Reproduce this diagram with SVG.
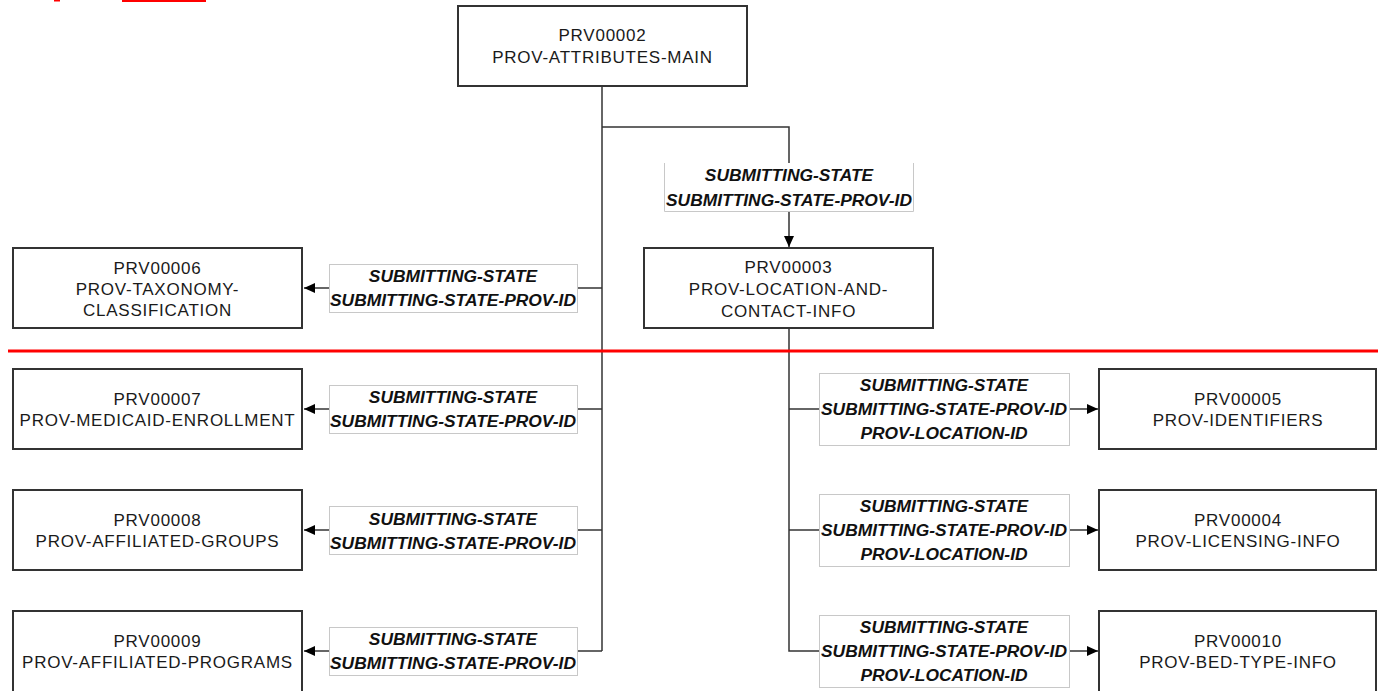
<svg xmlns="http://www.w3.org/2000/svg" width="1378" height="691" viewBox="0 0 1378 691">
<defs>
<style>
.box{fill:#fff;stroke:#333;stroke-width:2}
.bt{font-family:"Liberation Sans",Arial,sans-serif;font-size:17px;letter-spacing:0.75px;fill:#1a1a1a;text-anchor:middle}
.lb{fill:#fff;stroke:#c8c8c8;stroke-width:1}
.lt{font-family:"Liberation Sans",Arial,sans-serif;font-size:17.4px;font-weight:bold;font-style:italic;fill:#111;text-anchor:middle}
.con{fill:none;stroke:#333;stroke-width:1.5}
</style>
<marker id="ah" markerUnits="userSpaceOnUse" markerWidth="12" markerHeight="10" refX="11" refY="5" orient="auto">
<path d="M0,0 L11,5 L0,10 z" fill="#000"/>
</marker>
</defs>
<rect width="1378" height="691" fill="#fff"/>
<rect x="122" y="0" width="84" height="2" fill="#f00"/>
<rect x="54" y="0" width="6" height="1.5" fill="#f00"/>

<g id="connectors">
<path class="con" d="M602,86 V651"/>
<path class="con" d="M602,127 H789 V247" marker-end="url(#ah)"/>
<path class="con" d="M602,288 H304" marker-end="url(#ah)"/>
<path class="con" d="M602,409 H304" marker-end="url(#ah)"/>
<path class="con" d="M602,530 H304" marker-end="url(#ah)"/>
<path class="con" d="M602,651 H304" marker-end="url(#ah)"/>
<path class="con" d="M789,328 V651 H1098" marker-end="url(#ah)"/>
<path class="con" d="M789,409 H1098" marker-end="url(#ah)"/>
<path class="con" d="M789,530 H1098" marker-end="url(#ah)"/>

<g id="lbl-top">
<rect x="664" y="163" width="250" height="48" fill="#fff"/>
<path d="M664.5,163 V211.5 H913.5 V163" fill="none" stroke="#c8c8c8" stroke-width="1"/>
<text class="lt" x="789" y="181">SUBMITTING-STATE</text>
<text class="lt" x="789" y="206">SUBMITTING-STATE-PROV-ID</text>
</g>
<g id="lbl-6">
<rect class="lb" x="329.5" y="264.5" width="248" height="48"/>
<text class="lt" x="453" y="282">SUBMITTING-STATE</text>
<text class="lt" x="453" y="306">SUBMITTING-STATE-PROV-ID</text>
</g>
<g id="lbl-7">
<rect class="lb" x="329.5" y="385.5" width="248" height="48"/>
<text class="lt" x="453" y="403">SUBMITTING-STATE</text>
<text class="lt" x="453" y="427">SUBMITTING-STATE-PROV-ID</text>
</g>
<g id="lbl-8">
<rect class="lb" x="329.5" y="506.5" width="248" height="48"/>
<text class="lt" x="453" y="525">SUBMITTING-STATE</text>
<text class="lt" x="453" y="549">SUBMITTING-STATE-PROV-ID</text>
</g>
<g id="lbl-9">
<rect class="lb" x="329.5" y="627.5" width="248" height="48"/>
<text class="lt" x="453" y="645">SUBMITTING-STATE</text>
<text class="lt" x="453" y="669">SUBMITTING-STATE-PROV-ID</text>
</g>
<g id="lbl-5">
<rect class="lb" x="819.5" y="373.5" width="250" height="72"/>
<text class="lt" x="944" y="391">SUBMITTING-STATE</text>
<text class="lt" x="944" y="415">SUBMITTING-STATE-PROV-ID</text>
<text class="lt" x="944" y="439">PROV-LOCATION-ID</text>
</g>
<g id="lbl-4">
<rect class="lb" x="819.5" y="494.5" width="250" height="72"/>
<text class="lt" x="944" y="512">SUBMITTING-STATE</text>
<text class="lt" x="944" y="536">SUBMITTING-STATE-PROV-ID</text>
<text class="lt" x="944" y="560">PROV-LOCATION-ID</text>
</g>
<g id="lbl-10">
<rect class="lb" x="819.5" y="615.5" width="250" height="72"/>
<text class="lt" x="944" y="633">SUBMITTING-STATE</text>
<text class="lt" x="944" y="657">SUBMITTING-STATE-PROV-ID</text>
<text class="lt" x="944" y="681">PROV-LOCATION-ID</text>
</g>
</g>

<g id="PRV00002">
<rect class="box" x="458" y="6" width="289" height="80"/>
<text class="bt" x="602.5" y="41">PRV00002</text>
<text class="bt" x="602.5" y="63">PROV-ATTRIBUTES-MAIN</text>
</g>
<g id="PRV00003">
<rect class="box" x="644" y="248" width="289" height="80"/>
<text class="bt" x="788.5" y="273">PRV00003</text>
<text class="bt" x="788.5" y="295">PROV-LOCATION-AND-</text>
<text class="bt" x="788.5" y="317">CONTACT-INFO</text>
</g>
<g id="PRV00006">
<rect class="box" x="13" y="248" width="289" height="80"/>
<text class="bt" x="157.5" y="274">PRV00006</text>
<text class="bt" x="157.5" y="295">PROV-TAXONOMY-</text>
<text class="bt" x="157.5" y="316">CLASSIFICATION</text>
</g>
<g id="PRV00007">
<rect class="box" x="13" y="369" width="289" height="80"/>
<text class="bt" x="157.5" y="405">PRV00007</text>
<text class="bt" x="157.5" y="426">PROV-MEDICAID-ENROLLMENT</text>
</g>
<g id="PRV00008">
<rect class="box" x="13" y="490" width="289" height="80"/>
<text class="bt" x="157.5" y="526">PRV00008</text>
<text class="bt" x="157.5" y="547">PROV-AFFILIATED-GROUPS</text>
</g>
<g id="PRV00009">
<rect class="box" x="13" y="611" width="289" height="82"/>
<text class="bt" x="157.5" y="647">PRV00009</text>
<text class="bt" x="157.5" y="668">PROV-AFFILIATED-PROGRAMS</text>
</g>
<g id="PRV00005">
<rect class="box" x="1099" y="369" width="277" height="80"/>
<text class="bt" x="1238" y="405">PRV00005</text>
<text class="bt" x="1238" y="426">PROV-IDENTIFIERS</text>
</g>
<g id="PRV00004">
<rect class="box" x="1099" y="490" width="277" height="80"/>
<text class="bt" x="1238" y="526">PRV00004</text>
<text class="bt" x="1238" y="547">PROV-LICENSING-INFO</text>
</g>
<g id="PRV00010">
<rect class="box" x="1099" y="611" width="277" height="82"/>
<text class="bt" x="1238" y="647">PRV00010</text>
<text class="bt" x="1238" y="668">PROV-BED-TYPE-INFO</text>
</g>

<line x1="8" y1="351" x2="1378" y2="351" stroke="#f00" stroke-width="3"/>
</svg>
